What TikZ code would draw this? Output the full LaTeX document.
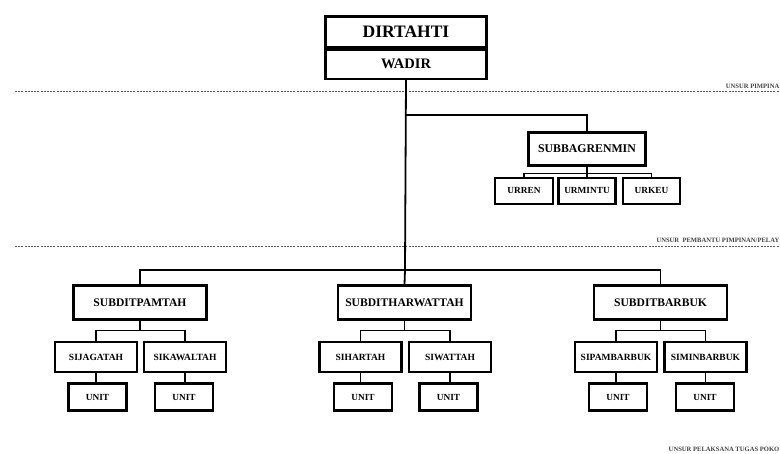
\documentclass[tikz,border=0pt]{standalone}
\usepackage{fontspec}
\setmainfont{Liberation Serif}
\begin{document}
\begin{tikzpicture}[x=1pt,y=-1pt,
  box/.style={draw=black,line width=2.2pt,fill=white,inner sep=0pt,font=\bfseries},
  conn/.style={line width=1.8pt,black},
  sep/.style={gray!70!black,line width=0.9pt,dash pattern=on 2pt off 1.2pt},
  unsur/.style={font=\bfseries\fontsize{6.6}{7.5}\selectfont,inner sep=0pt,anchor=east,text=black!75}]
\useasboundingbox (0,0) rectangle (780,454);
% top
\node[box,minimum width=161pt,minimum height=31pt,font=\bfseries\fontsize{17.5}{19}\selectfont] (dir) at (406,32) {DIRTAHTI};
\node[box,minimum width=161pt,minimum height=29pt,font=\bfseries\fontsize{14.5}{16}\selectfont,anchor=north] (wadir) at (dir.south) {WADIR};
% separators
\draw[sep] (15,91) -- (780,91);
\node[unsur] (u1) at (779.5,86) {UNSUR PIMPINA};
\draw[sep] (15,246) -- (780,246);
\node[unsur] (u2) at (779.5,240) {UNSUR\ \ PEMBANTU PIMPINAN/PELAY};
\node[unsur] (u3) at (779.5,449) {UNSUR PELAKSANA TUGAS POKO};
% subbagrenmin
\node[box,minimum width=117pt,minimum height=33pt,font=\bfseries\fontsize{11.8}{13}\selectfont] (sbr) at (587,149) {SUBBAGRENMIN};
\node[box,minimum width=58pt,minimum height=26pt,font=\bfseries\fontsize{9.3}{11}\selectfont] (urren) at (524,191) {URREN};
\node[box,minimum width=57pt,minimum height=26pt,font=\bfseries\fontsize{9.3}{11}\selectfont] (urmintu) at (587,191) {URMINTU};
\node[box,minimum width=57pt,minimum height=26pt,font=\bfseries\fontsize{9.3}{11}\selectfont] (urkeu) at (651.5,191) {URKEU};
% subdits
\tikzset{sd/.style={box,minimum width=133pt,minimum height=34pt,font=\bfseries\fontsize{11.6}{13}\selectfont},
  si/.style={box,minimum width=82pt,minimum height=30pt,font=\bfseries\fontsize{9.5}{11}\selectfont},
  un/.style={box,minimum width=58pt,minimum height=27pt,font=\bfseries\fontsize{9.3}{11}\selectfont}}
\node[sd] (pam) at (140,302.5) {SUBDITPAMTAH};
\node[sd] (har) at (404.5,302.5) {SUBDITHARWATTAH};
\node[sd] (bar) at (660.5,302.5) {SUBDITBARBUK};
\node[si] (sija) at (96,357) {SIJAGATAH};
\node[si] (sika) at (185,357) {SIKAWALTAH};
\node[si] (siha) at (360.5,357) {SIHARTAH};
\node[si] (siwa) at (450,357) {SIWATTAH};
\node[si] (sipa) at (616,357) {SIPAMBARBUK};
\node[si] (simi) at (705.5,357) {SIMINBARBUK};
\node[un] (u11) at (97.5,397) {UNIT};
\node[un] (u12) at (184,397) {UNIT};
\node[un] (u21) at (363,397) {UNIT};
\node[un] (u22) at (448.5,397) {UNIT};
\node[un] (u31) at (618,397) {UNIT};
\node[un] (u32) at (705,397) {UNIT};
% connectors
\coordinate (b1) at (405,115);
\coordinate (b2) at (405,270);
\draw[conn] (wadir.south) -- (b2);
\draw[conn] (b1) -| (sbr.north);
\draw[conn] (sbr.south) -- ++(0,7) coordinate (msbr);
\draw[conn] (urren.north) |- (msbr) -| (urkeu.north);
\draw[conn] (msbr) -- (urmintu.north);
\draw[conn] (pam.north) |- (b2) -| (bar.north);
\draw[conn] (b2) -- (har.north);
\foreach \p/\a/\b in {pam/sija/sika,har/siha/siwa,bar/sipa/simi}{
  \draw[conn] (\p.south) -- ++(0,10) coordinate (m\p);
  \draw[conn] (\a.north) |- (m\p) -| (\b.north);
}
\draw[conn] (sija.south) -- (sija.south|-u11.north);
\draw[conn] (sika.south) -- (sika.south|-u12.north);
\draw[conn] (siha.south) -- (siha.south|-u21.north);
\draw[conn] (siwa.south) -- (siwa.south|-u22.north);
\draw[conn] (sipa.south) -- (sipa.south|-u31.north);
\draw[conn] (simi.south) -- (simi.south|-u32.north);
\end{tikzpicture}
\end{document}
